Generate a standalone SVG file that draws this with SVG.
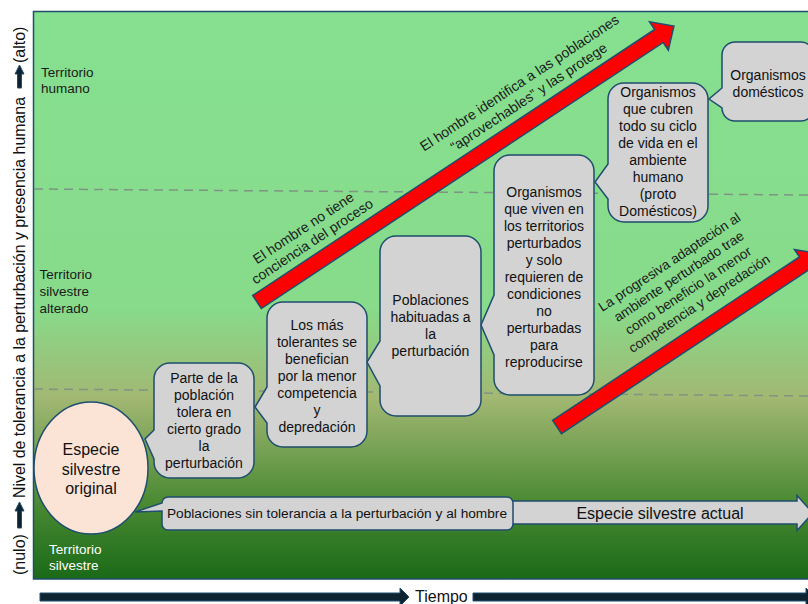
<svg xmlns="http://www.w3.org/2000/svg" width="808" height="604" viewBox="0 0 808 604">
<defs>
<linearGradient id="bg" x1="0" y1="0" x2="0" y2="1">
<stop offset="0" stop-color="#86e08f"/>
<stop offset="0.52" stop-color="#87db8b"/>
<stop offset="0.68" stop-color="#a2b873"/>
<stop offset="0.86" stop-color="#4d8b35"/>
<stop offset="1" stop-color="#1a6a18"/>
</linearGradient>
<style>
.box{fill:#d3d3d3;stroke:#1f4e6e;stroke-width:1.5}
.bt{font-family:"Liberation Sans",Arial,sans-serif;font-size:14px;fill:#111;text-anchor:middle}
.red{fill:#ff0000;stroke:#1f4e6e;stroke-width:1.5}
.al{font-family:"Liberation Sans",Arial,sans-serif;font-size:14px;fill:#1a1a1a;text-anchor:middle}
.terr{font-family:"Liberation Sans",Arial,sans-serif;font-size:13.5px;fill:#1a1a1a}
.dash{stroke:#7f9483;stroke-width:1.5;stroke-dasharray:9 6;fill:none}
.ax{font-family:"Liberation Sans",Arial,sans-serif;font-size:16px;fill:#111}
.axarrow{fill:#0d2430;stroke:#1f4e6e;stroke-width:1}
</style>
</defs>

<g id="background">
<rect x="33.5" y="11.5" width="790" height="567.5" fill="url(#bg)" stroke="#1f4e6e" stroke-width="1.5"/>
<line class="dash" x1="34" y1="189" x2="808" y2="195"/>
<line class="dash" x1="34" y1="389" x2="808" y2="396"/>
<text class="terr" x="41" y="77">Territorio</text>
<text class="terr" x="41" y="93">humano</text>
<text class="terr" x="39.5" y="279">Territorio</text>
<text class="terr" x="39.5" y="296">silvestre</text>
<text class="terr" x="39.5" y="313">alterado</text>
<text class="terr" x="49" y="554" style="fill:#ffffff">Territorio</text>
<text class="terr" x="49" y="570" style="fill:#ffffff">silvestre</text>
</g>

<g id="axes">
<text class="ax" transform="translate(24.5,575) rotate(-90)">(nulo)</text>
<polygon class="axarrow" points="17.5,528 21.5,528 21.5,511 24,511 19.5,502 15,511 17.5,511"/>
<text class="ax" transform="translate(24.5,498) rotate(-90)" textLength="401" lengthAdjust="spacingAndGlyphs">Nivel de tolerancia a la perturbación y presencia humana</text>
<polygon class="axarrow" points="17.5,88 21.5,88 21.5,74 24,74 19.5,65 15,74 17.5,74"/>
<text class="ax" transform="translate(24.5,63) rotate(-90)">(alto)</text>
<polygon class="axarrow" points="40,593 400,593 400,588 409,597 400,606 400,601 40,601"/>
<text class="ax" x="415" y="602">Tiempo</text>
<polygon class="axarrow" points="473,593 806,593 806,588 815,597 806,606 806,601 473,601"/>
</g>

<g id="connectors">
<g id="arrow-upper" transform="translate(257,302) rotate(-33.5)">
<polygon class="red" points="0,-7.8 482,-7.8 482,-17 500,0 482,17 482,7.8 0,7.8"/>
</g>
<g transform="translate(522,87) rotate(-33.5)">
<text class="al" x="0" y="0">El hombre identifica a las poblaciones</text>
<text class="al" x="0" y="17">“aprovechables” y las protege</text>
</g>
<g transform="translate(306,232) rotate(-33.5)">
<text class="al" x="0" y="0">El hombre no tiene</text>
<text class="al" x="0" y="16">conciencia del proceso</text>
</g>
<g id="arrow-lower" transform="translate(557,427) rotate(-33.5)">
<polygon class="red" points="0,-8 296,-8 296,-17 314,0 296,17 296,8 0,8"/>
</g>
<g transform="translate(672,266) rotate(-33.5)" style="font-size:13.6px">
<text class="al" x="0" y="0" style="font-size:13.6px">La progresiva adaptación al</text>
<text class="al" x="0" y="17" style="font-size:13.6px">ambiente perturbado trae</text>
<text class="al" x="0" y="34" style="font-size:13.6px">como beneficio la  menor</text>
<text class="al" x="2" y="51" style="font-size:13.6px">competencia y depredación</text>
</g>
<g id="arrow-actual">
<polygon class="box" points="450,501 797,501 797,495.5 813,513 797,530.5 797,524 450,524"/>
<text class="bt" x="660" y="518.5" style="font-size:16px">Especie silvestre actual</text>
</g>
</g>

<g id="especie-original">
<ellipse cx="91" cy="468" rx="57" ry="66" fill="#fbe3d6" stroke="#1f4e6e" stroke-width="1.5"/>
<text class="bt" x="91" y="455" style="font-size:16px">Especie</text>
<text class="bt" x="91" y="474.5" style="font-size:16px">silvestre</text>
<text class="bt" x="91" y="494" style="font-size:16px">original</text>
</g>

<g id="sin-tolerancia">
<path class="box" d="M168,497 H507 A6,6 0 0 1 513,503 V524 A6,6 0 0 1 507,530 H168 A6,6 0 0 1 162,524 V511 L135,512 L162,503 A6,6 0 0 1 168,497 Z"/>
<text class="bt" x="337" y="517.5" style="font-size:13.7px">Poblaciones sin tolerancia a la perturbación y al hombre</text>
</g>

<g id="parte-poblacion">
<path class="box" d="M170,363 H238 A16,16 0 0 1 254,379 V462 A16,16 0 0 1 238,478 H170 A16,16 0 0 1 154,462 V459 L145,439 L154,430 V379 A16,16 0 0 1 170,363 Z"/>
<text class="bt" x="204" y="383">Parte de la</text>
<text class="bt" x="204" y="400">población</text>
<text class="bt" x="204" y="417">tolera en</text>
<text class="bt" x="204" y="434">cierto grado</text>
<text class="bt" x="204" y="451">la</text>
<text class="bt" x="204" y="468">perturbación</text>
</g>

<g id="mas-tolerantes">
<path class="box" d="M283,302 H351 A16,16 0 0 1 367,318 V431 A16,16 0 0 1 351,447 H283 A16,16 0 0 1 267,431 V423 L255,407 L267,387 V318 A16,16 0 0 1 283,302 Z"/>
<text class="bt" x="317" y="330">Los más</text>
<text class="bt" x="317" y="347">tolerantes se</text>
<text class="bt" x="317" y="364">benefician</text>
<text class="bt" x="317" y="381">por la menor</text>
<text class="bt" x="317" y="398">competencia</text>
<text class="bt" x="317" y="415">y</text>
<text class="bt" x="317" y="432">depredación</text>
</g>

<g id="habituadas">
<path class="box" d="M396,236 H465 A16,16 0 0 1 481,252 V400 A16,16 0 0 1 465,416 H396 A16,16 0 0 1 380,400 V386 L367,362 L380,341 V252 A16,16 0 0 1 396,236 Z"/>
<text class="bt" x="430.5" y="305">Poblaciones</text>
<text class="bt" x="430.5" y="322">habituadas a</text>
<text class="bt" x="430.5" y="339">la</text>
<text class="bt" x="430.5" y="356">perturbación</text>
</g>

<g id="territorios-perturbados">
<path class="box" d="M510,155 H578 A16,16 0 0 1 594,171 V379 A16,16 0 0 1 578,395 H510 A16,16 0 0 1 494,379 V355 L481,325 L494,295 V171 A16,16 0 0 1 510,155 Z"/>
<text class="bt" x="544" y="197">Organismos</text>
<text class="bt" x="544" y="214">que viven en</text>
<text class="bt" x="544" y="231">los territorios</text>
<text class="bt" x="544" y="248">perturbados</text>
<text class="bt" x="544" y="265">y solo</text>
<text class="bt" x="544" y="282">requieren de</text>
<text class="bt" x="544" y="299">condiciones</text>
<text class="bt" x="544" y="316">no</text>
<text class="bt" x="544" y="333">perturbadas</text>
<text class="bt" x="544" y="350">para</text>
<text class="bt" x="544" y="367">reproducirse</text>
</g>

<g id="proto-domesticos">
<path class="box" d="M624,83 H692 A16,16 0 0 1 708,99 V206 A16,16 0 0 1 692,222 H624 A16,16 0 0 1 608,206 V199 L595,182 L608,164 V99 A16,16 0 0 1 624,83 Z"/>
<text class="bt" x="658" y="97">Organismos</text>
<text class="bt" x="658" y="114">que cubren</text>
<text class="bt" x="658" y="131">todo su ciclo</text>
<text class="bt" x="658" y="148">de vida en el</text>
<text class="bt" x="658" y="165">ambiente</text>
<text class="bt" x="658" y="182">humano</text>
<text class="bt" x="658" y="199">(proto</text>
<text class="bt" x="658" y="216">Domésticos)</text>
</g>

<g id="domesticos">
<path class="box" d="M735,42 H801 A13,13 0 0 1 814,55 V108 A13,13 0 0 1 801,121 H735 A13,13 0 0 1 722,108 L709,99 L722,88 V55 A13,13 0 0 1 735,42 Z"/>
<text class="bt" x="768" y="80">Organismos</text>
<text class="bt" x="768" y="97">domésticos</text>
</g>
</svg>
